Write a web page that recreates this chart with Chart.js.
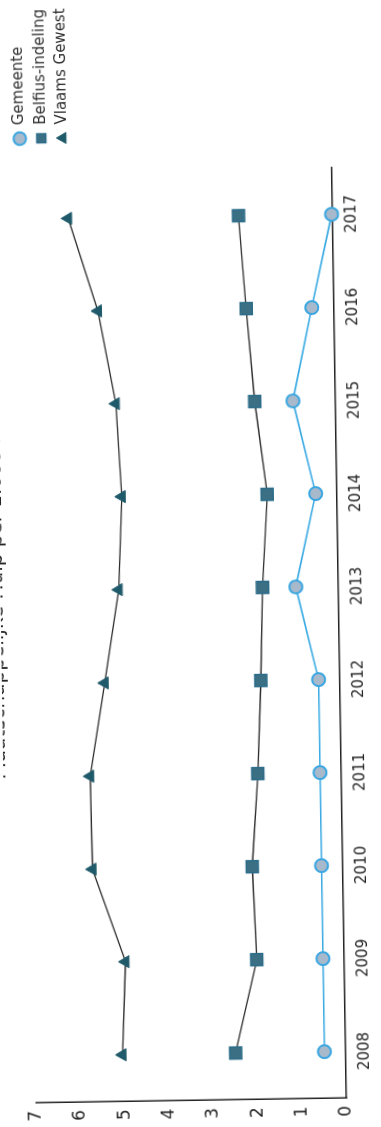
<!DOCTYPE html>
<html>
<head>
<meta charset="utf-8">
<script src="https://cdn.jsdelivr.net/npm/chart.js@4.4.1/dist/chart.umd.min.js"></script>
<style>
html, body { margin: 0; padding: 0; background: #fff; width: 381px; height: 1127px; overflow: hidden; position: relative; }
/* the scanned chart lies on its side, a little skewed */
#wrap { position: absolute; left: -373px; top: 373px; width: 1127px; height: 381px;
        transform: rotate(-90.9deg); transform-origin: 50% 50%; }
</style>
</head>
<body>
<div id="wrap"><canvas id="myChart" width="1127" height="381"></canvas></div>
<script>
var years = ['2008', '2009', '2010', '2011', '2012', '2013', '2014', '2015', '2016', '2017'];
var gemeente = [0.48, 0.48, 0.48, 0.48, 0.48, 0.96, 0.48, 0.96, 0.5, 0.02];
var belfius = [2.48, 1.97, 2.04, 1.88, 1.78, 1.71, 1.57, 1.82, 1.98, 2.12];
var vlaams = [5.03, 4.93, 5.64, 5.66, 5.3, 4.95, 4.85, 4.95, 5.32, 5.96];
var yTicks = [0, 1, 2, 3, 4, 5, 6, 7];

var font = 'DejaVu Sans';

// legend sits against the right edge, with a gap to the plot
var legendShift = {
    id: 'legendShift',
    afterLayout: function(chart) {
        chart.legend.left += 21.5;
        chart.legend.right += 21.5;
    }
};

var ctx = document.getElementById('myChart').getContext('2d');
var myChart = new Chart(ctx, {
    type: 'line',
    data: {
        labels: years,
        datasets: [{
            label: 'Gemeente',
            data: gemeente,
            borderColor: '#38a9e3',
            backgroundColor: '#a9b9cc',
            borderWidth: 1.6,
            pointStyle: 'circle',
            pointRadius: 6.5,
            pointBackgroundColor: '#a9b9cc',
            pointBorderColor: '#3aa6e0',
            pointBorderWidth: 2,
            tension: 0,
            clip: false
        }, {
            label: 'Belfius-indeling',
            data: belfius,
            borderColor: '#2a2a2a',
            backgroundColor: '#3b6f84',
            borderWidth: 1.3,
            pointStyle: 'rect',
            pointRadius: 8.5,
            pointBackgroundColor: '#3b6f84',
            pointBorderColor: '#2c6d8a',
            pointBorderWidth: 1.5,
            tension: 0,
            clip: false
        }, {
            label: 'Vlaams Gewest',
            data: vlaams,
            borderColor: '#2a2a2a',
            backgroundColor: '#1f5a6a',
            borderWidth: 1.3,
            pointStyle: 'triangle',
            pointRadius: 7,
            pointBackgroundColor: '#1f5a6a',
            pointBorderColor: '#1f5a6a',
            pointBorderWidth: 1,
            tension: 0,
            clip: false
        }]
    },
    options: {
        responsive: false,
        animation: false,
        layout: { padding: { top: 12.5, left: 0, right: 0, bottom: 4 } },
        plugins: {
            title: {
                display: true,
                text: 'Maatschappelijke Hulp per 1.000 inwoners',
                color: '#222',
                font: { family: font, size: 20, weight: 'normal' },
                padding: { top: -27.5, bottom: 18.4 }
            },
            legend: {
                position: 'right',
                align: 'start',
                labels: {
                    usePointStyle: true,
                    boxWidth: 12,
                    boxHeight: 9,
                    padding: 6.5,
                    color: '#333',
                    font: { family: font, size: 15 }
                }
            },
            tooltip: { enabled: false }
        },
        scales: {
            x: {
                offset: true,
                grid: { display: false, drawTicks: false },
                border: { display: true, color: '#222', width: 1.5 },
                ticks: { color: '#222', padding: 10.5, maxRotation: 0, font: { family: font, size: 15 } },
                afterFit: function(scale) { scale.paddingRight = 170; }
            },
            y: {
                min: 0,
                max: 7,
                grid: { display: false, drawTicks: false },
                border: { display: true, color: '#222', width: 1.5 },
                afterBuildTicks: function(scale) {
                    scale.ticks = yTicks.map(function(v) { return { value: v }; });
                },
                ticks: { color: '#222', padding: 8, font: { family: font, size: 17 } }
            }
        }
    },
    plugins: [legendShift]
});
</script>
</body>
</html>
